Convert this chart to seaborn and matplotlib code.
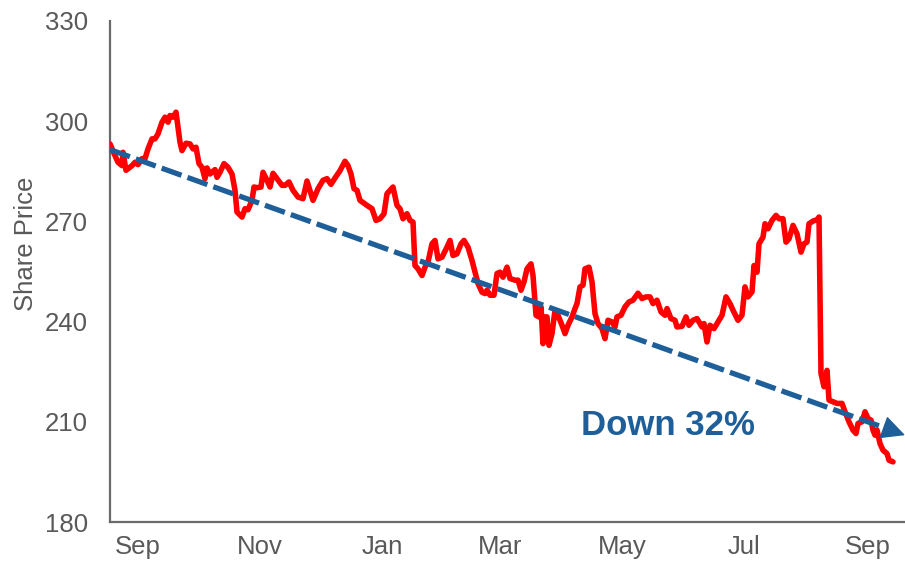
import numpy as np
import pandas as pd
import matplotlib
matplotlib.use("Agg")
import matplotlib.pyplot as plt
import seaborn as sns

# ---- data ----
start_date = "2021-09-01"
days = [0, 2.5, 4, 6, 6.5, 8, 11, 12.5, 14, 16, 17.5, 19, 21, 22.5, 24, 26, 27.5, 29, 30, 31.5,
        33, 35, 36, 38, 40, 41.5, 43, 44.5, 46, 47.5, 48.5, 50, 52.5, 53.5, 55, 57, 59, 61, 62.5, 63.5,
        66, 67.5, 69, 71, 72, 73.5, 75.5, 76.5, 78.5, 80, 81.5, 83.5, 86, 87.5, 89.5, 91.5, 94, 96.5, 98.5, 101.5,
        104, 106.5, 108.5, 110.5, 112.5, 115, 117.5, 119, 120.5, 122, 123.5, 125, 128.5, 131, 133, 135, 137, 138.5, 141.5, 143.5,
        145, 146.5, 148.5, 150, 151.5, 152.5, 154, 156, 157.5, 159, 161, 162.5, 164, 166, 168.5, 170, 171.5, 173.5, 175.5, 177,
        179, 181, 182.5, 184, 186, 187.5, 188.5, 190, 192, 193.5, 195, 196.5, 198.5, 200, 202.5, 204, 205.5, 207, 208.5, 210.5,
        211.5, 213, 214.5, 215.5, 216.5, 217.5, 218.5, 219.5, 221, 222.5, 224, 226, 227.5, 229, 231, 232.5, 233.5, 235, 236.5, 237.5,
        239.5, 241, 242.5, 244, 246, 247.5, 249, 251, 252.5, 253.5, 255.5, 257.5, 259.5, 261.5, 264, 266, 268, 270, 271.5, 273.5,
        275.5, 277.5, 278.5, 280.5, 282.5, 283.5, 286, 288, 289.5, 291.5, 293.5, 296, 297, 298.5, 300, 302, 304, 306, 308, 310,
        311.5, 314, 316, 317.5, 319, 321, 322, 323.5, 324.5, 326.5, 327.5, 329, 331, 333, 334.5, 336.5, 338, 339.5, 341.5, 343.5,
        345.5, 347, 348.5, 349.5, 351.5, 353.5, 354.5, 355.5, 357, 358.5, 359.5, 361.5, 363.5, 366, 367.5, 369.5, 371.5, 373, 374, 376,
        377.5, 379, 380.5, 381.5, 382.5, 383.5, 385, 386.5, 388.5, 389.5, 391.5]
prices = [293.2, 289.7, 287.7, 286.7, 290.7, 285.3, 286.7, 287.7, 287.0, 288.8, 288.8, 291.7, 294.7, 294.7, 296.2, 299.7, 301.2, 299.7, 301.7, 301.2,
          302.7, 293.7, 291.2, 293.4, 293.2, 291.7, 292.2, 287.3, 286.2, 282.8, 286.0, 284.2, 285.5, 283.2, 284.7, 287.3, 286.2, 284.2, 279.3, 272.8,
          271.3, 273.8, 273.5, 276.3, 280.3, 280.1, 280.3, 284.7, 282.3, 280.3, 284.4, 282.8, 280.8, 280.8, 281.8, 279.3, 277.3, 276.8, 282.1, 276.3,
          279.8, 282.3, 282.8, 281.1, 283.0, 285.2, 288.0, 286.7, 284.2, 279.8, 279.3, 276.3, 274.8, 273.8, 270.3, 270.8, 272.3, 278.3, 280.3, 274.8,
          273.8, 270.8, 272.3, 270.3, 269.8, 256.8, 255.8, 253.8, 256.3, 257.8, 263.3, 264.3, 258.8, 259.3, 262.3, 264.3, 259.8, 260.3, 263.3, 264.3,
          262.3, 258.3, 254.8, 251.4, 248.8, 248.4, 249.4, 247.9, 247.9, 254.4, 254.8, 253.3, 256.3, 252.9, 252.4, 252.4, 249.4, 251.9, 255.8, 257.3,
          253.8, 241.9, 241.4, 244.4, 233.4, 241.4, 241.4, 232.9, 236.4, 243.4, 241.9, 238.9, 236.4, 238.9, 241.4, 243.9, 245.4, 250.4, 250.9, 255.8,
          256.3, 251.9, 242.4, 239.4, 237.9, 234.9, 240.4, 239.9, 238.4, 241.4, 241.9, 244.4, 245.9, 246.4, 248.5, 246.9, 247.4, 247.4, 245.4, 246.4,
          242.9, 241.9, 243.9, 240.9, 240.4, 238.4, 238.6, 241.4, 238.9, 240.4, 240.9, 238.4, 239.4, 233.9, 238.9, 237.9, 239.9, 241.9, 247.4, 245.4,
          243.4, 240.4, 241.9, 250.4, 247.4, 248.9, 256.8, 254.8, 263.3, 265.3, 269.3, 267.8, 270.3, 271.8, 270.8, 270.8, 263.8, 264.8, 268.8, 266.3,
          260.8, 263.3, 263.8, 269.3, 270.1, 270.5, 271.3, 224.5, 220.5, 225.4, 216.5, 216.0, 215.5, 215.5, 213.0, 210.0, 207.5, 206.5, 209.5, 210.0,
          213.0, 211.0, 210.5, 207.5, 206.0, 207.5, 203.5, 201.5, 200.5, 198.5, 198.0]

# trend arrow: value at series start and at arrow tip
trend_days = [0, 397.5]
trend_values = [291.5, 206.0]

tick_dates = ["2021-09-15", "2021-11-15", "2022-01-15", "2022-03-15", "2022-05-15", "2022-07-15", "2022-09-15"]
tick_labels = ["Sep", "Nov", "Jan", "Mar", "May", "Jul", "Sep"]
y_ticks = [180, 210, 240, 270, 300, 330]
annotation = "Down 32%"

# ---- styling ----
RED = "#FF0000"
BLUE = "#1F5F99"
GREY = "#595959"

sns.set_theme(style="white")
plt.rcParams["font.family"] = ["Liberation Sans", "DejaVu Sans"]

t0 = pd.Timestamp(start_date)
df = pd.DataFrame({"date": t0 + pd.to_timedelta(days, unit="D"), "price": prices})

fig = plt.figure(figsize=(9.05, 5.66), dpi=100)
ax = fig.add_axes([110 / 905, 44 / 566, 795 / 905, 501 / 566])

sns.lineplot(data=df, x="date", y="price", ax=ax, color=RED, linewidth=4.0,
             solid_joinstyle="round", solid_capstyle="round", zorder=3)

# dashed trend with solid arrow head
tdates = t0 + pd.to_timedelta(trend_days, unit="D")
head_frac = 0.975
base_day = trend_days[0] + head_frac * (trend_days[1] - trend_days[0])
base_val = trend_values[0] + head_frac * (trend_values[1] - trend_values[0])
base_date = t0 + pd.to_timedelta(base_day, unit="D")
ax.plot([tdates[0], base_date], [trend_values[0], base_val], color=BLUE, linewidth=3.8,
        linestyle=(0, (4.0, 1.2)), dash_capstyle="butt", zorder=4, clip_on=False)
ax.annotate("", xy=(tdates[1], trend_values[1]), xytext=(base_date, base_val),
            arrowprops=dict(arrowstyle="-|>,head_length=1.5,head_width=0.75", color=BLUE,
                            lw=1, shrinkA=0, shrinkB=0, mutation_scale=10),
            annotation_clip=False, zorder=5)

ax.text(t0 + pd.to_timedelta(279, unit="D"), 205.9, annotation, color=BLUE,
        fontsize=25, fontweight="bold", ha="center", va="baseline", zorder=6)

ax.set_ylim(180, 330)
ax.set_yticks(y_ticks)
ax.set_xlim(t0, t0 + pd.to_timedelta(trend_days[1], unit="D"))
ax.set_xticks(pd.to_datetime(tick_dates))
ax.set_xticklabels(tick_labels)
ax.set_xlabel("")
ax.set_ylabel("Share Price", fontsize=18.5, color=GREY, labelpad=5, y=0.556)

ax.tick_params(axis="y", length=0, pad=16, labelsize=18.5, labelcolor=GREY)
ax.tick_params(axis="x", length=0, pad=9.5, labelsize=18.5, labelcolor=GREY)

for side in ["top", "right"]:
    ax.spines[side].set_visible(False)
for side in ["left", "bottom"]:
    ax.spines[side].set_color("#6a6a6a")
    ax.spines[side].set_linewidth(1.6)
ax.grid(False)

fig.savefig("out.png", dpi=100)
